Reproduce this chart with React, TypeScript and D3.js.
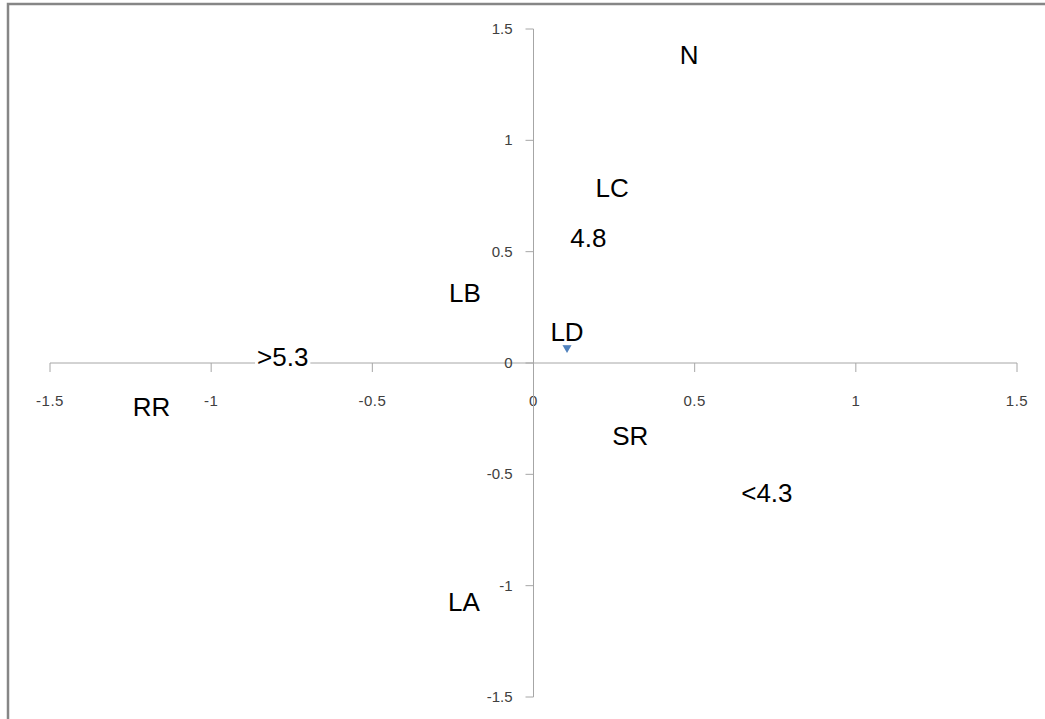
import React, { useEffect, useRef } from "react";
import * as d3 from "d3";

const labels = ["N", "LC", "4.8", "LB", "LD", ">5.3", "RR", "SR", "<4.3", "LA"];
const xValues = [0.483, 0.244, 0.17, -0.213, 0.104, -0.778, -1.185, 0.3, 0.724, -0.216];
const yValues = [1.326, 0.728, 0.503, 0.256, 0.08, -0.031, -0.256, -0.387, -0.643, -1.13];
const markerLabels = ["LD"];
const ticks = [-1.5, -1, -0.5, 0, 0.5, 1, 1.5];

const W = 1045;
const H = 719;

export default function App() {
  const ref = useRef<SVGSVGElement | null>(null);

  useEffect(() => {
    const svg = d3.select(ref.current);
    svg.selectAll("*").remove();

    const x = d3.scaleLinear().domain([-1.5, 1.5]).range([50, 1017]);
    const y = d3.scaleLinear().domain([-1.5, 1.5]).range([697, 29]);

    svg.append("rect").attr("width", W).attr("height", H).attr("fill", "#fff");

    // frame
    svg
      .append("path")
      .attr("d", `M8,${H} L8,4 L${W},4`)
      .attr("fill", "none")
      .attr("stroke", "#868686")
      .attr("stroke-width", 2.5);

    const axisColor = "#a6a6a6";
    const x0 = x(0);
    const y0 = y(0);
    const tickFont = "'Liberation Sans', Arial, sans-serif";

    // x axis
    svg
      .append("line")
      .attr("x1", x(-1.5))
      .attr("x2", x(1.5))
      .attr("y1", y0)
      .attr("y2", y0)
      .attr("stroke", axisColor)
      .attr("stroke-width", 1);
    svg
      .selectAll("line.xt")
      .data(ticks)
      .join("line")
      .attr("class", "xt")
      .attr("x1", (d) => x(d))
      .attr("x2", (d) => x(d))
      .attr("y1", y0)
      .attr("y2", y0 + 9)
      .attr("stroke", axisColor);
    svg
      .selectAll("text.xl")
      .data(ticks)
      .join("text")
      .attr("class", "xl")
      .attr("x", (d) => x(d))
      .attr("y", y0 + 43)
      .attr("text-anchor", "middle")
      .attr("font-family", tickFont)
      .attr("font-size", 15)
      .attr("letter-spacing", 0.5)
      .attr("fill", "#404040")
      .text((d) => String(d));

    // y axis
    svg
      .append("line")
      .attr("x1", x0)
      .attr("x2", x0)
      .attr("y1", y(1.5))
      .attr("y2", y(-1.5))
      .attr("stroke", axisColor)
      .attr("stroke-width", 1);
    svg
      .selectAll("line.yt")
      .data(ticks)
      .join("line")
      .attr("class", "yt")
      .attr("x1", x0 - 8)
      .attr("x2", x0)
      .attr("y1", (d) => y(d))
      .attr("y2", (d) => y(d))
      .attr("stroke", axisColor);
    svg
      .selectAll("text.yl")
      .data(ticks)
      .join("text")
      .attr("class", "yl")
      .attr("x", x0 - 21)
      .attr("y", (d) => y(d) + 5)
      .attr("text-anchor", "end")
      .attr("font-family", tickFont)
      .attr("font-size", 15)
      .attr("fill", "#404040")
      .text((d) => String(d));

    const pts = labels.map((l, i) => ({ l, x: xValues[i], y: yValues[i] }));

    // markers
    svg
      .selectAll("path.mk")
      .data(pts.filter((p) => markerLabels.includes(p.l)))
      .join("path")
      .attr("class", "mk")
      .attr("d", d3.symbol().type(d3.symbolDiamond).size(70)())
      .attr("transform", (d) => `translate(${x(d.x)},${y(d.y)})`)
      .attr("fill", "#4f81bd");

    // data labels with white boxes
    const g = svg
      .selectAll("g.lbl")
      .data(pts)
      .join("g")
      .attr("class", "lbl")
      .attr("transform", (d) => `translate(${x(d.x)},${y(d.y) - 13})`);
    const rects = g.append("rect").attr("fill", "#fff");
    const texts = g
      .append("text")
      .attr("text-anchor", "middle")
      .attr("y", 9)
      .attr("font-family", "'Liberation Sans', Arial, sans-serif")
      .attr("font-size", 26)
      .attr("fill", "#000")
      .text((d) => d.l);
    texts.each(function (_d, i) {
      const bb = (this as SVGTextElement).getBBox();
      const r = d3.select(rects.nodes()[i]);
      r.attr("x", bb.x - 2)
        .attr("y", -13)
        .attr("width", bb.width + 4)
        .attr("height", 26);
    });
  }, []);

  return (
    <div style={{ position: "fixed", left: 0, top: 0 }}>
      <svg ref={ref} width={W} height={H} style={{ display: "block" }} />
    </div>
  );
}
